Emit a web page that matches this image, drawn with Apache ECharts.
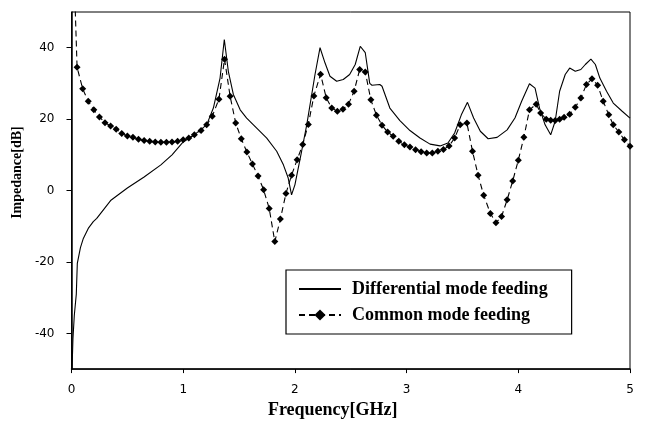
<!DOCTYPE html>
<html>
<head>
<meta charset="utf-8">
<script src="https://cdn.jsdelivr.net/npm/echarts@6/dist/echarts.min.js"></script>
<style>html,body{margin:0;padding:0;background:#fff;}#c{width:645px;height:424px;}</style>
</head>
<body>
<div id="c"></div>
<script>
// Differential mode feeding (solid)
var freqDM = [0.005,0.013,0.025,0.043,0.052,0.08,0.106,0.15,0.195,0.226,0.35,0.5,0.65,0.8,0.9,1.0,1.09,1.21,1.27,1.33,1.368,1.404,1.449,1.51,1.568,1.658,1.748,1.837,1.897,1.94,1.97,2.0,2.06,2.106,2.18,2.225,2.27,2.314,2.374,2.433,2.49,2.54,2.585,2.63,2.67,2.69,2.76,2.78,2.85,2.94,3.03,3.12,3.21,3.30,3.37,3.43,3.49,3.545,3.60,3.66,3.73,3.81,3.90,3.97,4.03,4.10,4.15,4.19,4.24,4.29,4.33,4.37,4.42,4.46,4.51,4.56,4.60,4.65,4.69,4.73,4.79,4.85,4.93,5.0];
var dbDM = [-50,-41.5,-35,-29,-20.4,-16,-13.4,-10.6,-8.7,-7.8,-2.8,0.7,3.8,7.2,10.0,13.6,15.4,18.4,23.1,31.5,42.3,33.4,26.9,22.6,20.3,17.5,14.7,11.0,7.2,3.5,-1.2,1.6,11.0,18.4,32.5,40.0,35.7,32.0,30.6,31.1,32.5,35.3,40.4,38.6,30.0,29.5,29.7,29.2,23.1,19.6,16.8,14.7,13.0,12.5,13.3,16.1,21.2,24.7,20.3,16.6,14.5,14.9,17.0,20.3,25.0,29.9,28.7,23.1,18.4,15.6,19.4,27.8,32.5,34.3,33.4,33.9,35.3,36.8,35.3,31.5,27.8,24.5,22.2,20.3];

// Common mode feeding (dashed with diamonds)
var freqCM = [0.028,0.05,0.10,0.15,0.20,0.25,0.30,0.35,0.40,0.45,0.50,0.55,0.60,0.65,0.70,0.75,0.80,0.85,0.90,0.95,1.00,1.05,1.10,1.16,1.21,1.26,1.32,1.37,1.42,1.47,1.52,1.57,1.62,1.67,1.72,1.77,1.82,1.87,1.92,1.97,2.02,2.07,2.12,2.17,2.23,2.28,2.33,2.38,2.43,2.48,2.53,2.58,2.63,2.68,2.73,2.78,2.83,2.88,2.93,2.98,3.03,3.08,3.13,3.18,3.23,3.28,3.33,3.38,3.43,3.48,3.54,3.59,3.64,3.69,3.75,3.80,3.85,3.90,3.95,4.00,4.05,4.10,4.16,4.20,4.25,4.29,4.33,4.37,4.41,4.46,4.51,4.56,4.61,4.66,4.71,4.76,4.81,4.85,4.90,4.95,5.00];
var dbCM = [56,34.5,28.5,25.0,22.6,20.6,19.0,18.1,17.2,16.0,15.3,14.9,14.4,14.0,13.8,13.6,13.5,13.5,13.6,13.8,14.2,14.7,15.6,16.8,18.4,20.8,25.6,36.8,26.4,18.9,14.5,10.8,7.4,4.1,0.2,-5.0,-14.3,-8.0,-0.8,4.3,8.6,12.9,18.5,26.5,32.6,26.0,23.1,22.2,22.8,24.2,27.8,33.9,33.2,25.4,21.1,18.3,16.4,15.2,13.8,12.8,12.2,11.4,10.9,10.5,10.5,11.0,11.5,12.5,14.7,18.4,18.9,11.0,4.3,-1.3,-6.4,-9.0,-7.3,-2.6,2.7,8.5,14.9,22.6,24.2,21.7,20.0,19.7,19.6,20.0,20.5,21.4,23.3,25.9,29.7,31.3,29.5,25.0,21.2,18.4,16.4,14.2,12.4];

var xTicks = [0,1,2,3,4,5];
var yTicks = [-40,-20,0,20,40];

var dmData = freqDM.map(function(f,i){return [f, dbDM[i]];});
var cmData = freqCM.map(function(f,i){
  var p = {value:[f, dbCM[i]]};
  if (dbCM[i] > 50) p.symbol = 'none';
  return p;
});

var chart = echarts.init(document.getElementById('c'), null, {renderer:'canvas'});
chart.setOption({
  animation:false,
  backgroundColor:'#fff',
  grid:{left:71.5, right:15, top:12, bottom:53, show:true, borderColor:'#000', borderWidth:1, backgroundColor:'transparent'},
  xAxis:{
    type:'value', min:0, max:5, interval:1,
    name:'Frequency[GHz]', nameLocation:'middle', nameGap:30,
    nameTextStyle:{fontFamily:'Liberation Serif', fontWeight:'bold', fontSize:18, color:'#000', padding:[0,36,0,0]},
    axisLine:{onZero:false, lineStyle:{color:'#000', width:1.5}},
    axisTick:{show:true, inside:false, length:4, lineStyle:{color:'#000'}},
    axisLabel:{margin:15, fontFamily:'DejaVu Sans', fontSize:12, color:'#000', customValues:xTicks},
    splitLine:{show:false}
  },
  yAxis:{
    type:'value', min:-50, max:50, interval:10,
    name:'Impedance[dB]', nameLocation:'middle', nameGap:47,
    nameTextStyle:{fontFamily:'Liberation Serif', fontWeight:'bold', fontSize:14, color:'#000', padding:[0,0,0,36]},
    axisLine:{show:true, onZero:false, lineStyle:{color:'#000', width:1.5}},
    axisTick:{show:true, inside:false, length:5, lineStyle:{color:'#000'}, customValues:yTicks},
    axisLabel:{margin:17, fontFamily:'DejaVu Sans', fontSize:12, color:'#000', customValues:yTicks},
    splitLine:{show:false}
  },
  legend:{
    orient:'vertical', left:286, top:270,
    borderColor:'#000', borderWidth:1.2, padding:[10,24,10,12], itemGap:8,
    itemWidth:42, itemHeight:14,
    textStyle:{fontFamily:'Liberation Serif', fontWeight:'bold', fontSize:18, color:'#000', padding:[0,0,0,6]},
    data:[
      {name:'Differential mode feeding', itemStyle:{color:'rgba(0,0,0,0)', borderColor:'rgba(0,0,0,0)', borderWidth:0, opacity:0}},
      {name:'Common mode feeding'}
    ]
  },
  series:[
    {name:'Differential mode feeding', type:'line', data:dmData, showSymbol:false, symbol:'none',
     lineStyle:{color:'#000', width:1.1}, itemStyle:{color:'#000'}},
    {name:'Common mode feeding', type:'line', data:cmData, symbol:'diamond', symbolSize:7, showSymbol:true,
     lineStyle:{color:'#000', width:1.1, type:[6,4]}, itemStyle:{color:'#000'}}
  ]
});
</script>
</body>
</html>
